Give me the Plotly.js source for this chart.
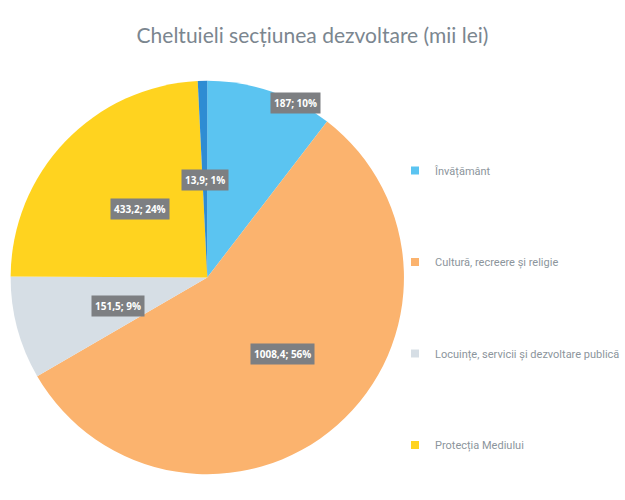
<!DOCTYPE html>
<html><head><meta charset="utf-8">
<script src="https://cdn.plot.ly/plotly-3.0.1.min.js"></script>
<style>html,body{margin:0;padding:0;background:#fff}</style>
</head><body><div id="chart" style="width:625px;height:500px"></div>
<script>
const labels = ["Învățământ", "Cultură, recreere și religie", "Locuințe, servicii și dezvoltare publică", "Protecția Mediului", "Altele"];
const values = [187, 1008.4, 151.5, 433.2, 13.9];
const percentLabels = [10, 56, 9, 24, 1];
const legendLabels = ["Învățământ", "Cultură, recreere și religie", "Locuințe, servicii și dezvoltare publică", "Protecția Mediului"];

const colors = ["#5BC4F1", "#FBB36E", "#D6DEE5", "#FFD31F", "#2E8CD3"];
const labelRadius = [0.965, 0.535, 0.475, 0.48, 0.48];
const labelAngleShift = [8.8, -4, -2, 0.5, -0.3];

const W = 625, H = 500;
const domX = [11 / W, 418 / W];
const domY = [1 - 481 / H, 1 - 74 / H];

const total = values.reduce((a, b) => a + b, 0);
const fmt = v => String(v).replace('.', ',');

const annotations = [];
let cum = 0;
const R = Math.min((domX[1] - domX[0]) * W, (domY[1] - domY[0]) * H) / 2;
const cx = (domX[0] + domX[1]) / 2, cy = (domY[0] + domY[1]) / 2;
values.forEach((v, i) => {
  const mid = ((cum + v / 2) / total * 360 + labelAngleShift[i]) * Math.PI / 180;
  cum += v;
  const r = labelRadius[i] * R;
  annotations.push({
    x: cx + r * Math.sin(mid) / W,
    y: cy + r * Math.cos(mid) / H,
    xref: 'paper', yref: 'paper', xanchor: 'center', yanchor: 'middle', showarrow: false,
    text: '<b>' + fmt(v) + '; ' + percentLabels[i] + '%</b>',
    font: {family: 'Open Sans, Arial', size: 10, color: '#ffffff'},
    bgcolor: '#7d7f82', borderpad: 3
  });
});

const traces = [{
  type: 'pie', labels: labels, values: values, sort: false, direction: 'clockwise', rotation: 0,
  marker: {colors: colors, line: {width: 0}},
  textinfo: 'none', hoverinfo: 'label+value+percent', showlegend: false,
  domain: {x: domX, y: domY}
}];
legendLabels.forEach((l, i) => {
  traces.push({
    type: 'scatter', mode: 'markers', x: [null], y: [null], name: l,
    legendgroup: 'g' + i,
    marker: {symbol: 'square', size: 8, color: colors[i]}
  });
});

const layout = {
  width: W, height: H, margin: {l: 0, r: 0, t: 0, b: 0},
  paper_bgcolor: '#ffffff', plot_bgcolor: '#ffffff',
  title: {text: 'Cheltuieli secțiunea dezvoltare (mii lei)', x: 0.5, xanchor: 'center', y: 1 - 36 / H, yanchor: 'middle', yref: 'paper',
          font: {family: 'Lato, Open Sans, Arial', size: 21, color: '#7b868f'}},
  xaxis: {visible: false}, yaxis: {visible: false},
  showlegend: true,
  legend: {x: 409 / W, xanchor: 'left', y: 1 - 156 / H, yanchor: 'top', tracegroupgap: 72.5,
           font: {family: 'Roboto, Arial', size: 11, color: '#8c959c'}, bgcolor: 'rgba(0,0,0,0)'},
  annotations: annotations
};
Plotly.newPlot('chart', traces, layout, {displayModeBar: false, staticPlot: true});
</script></body></html>
